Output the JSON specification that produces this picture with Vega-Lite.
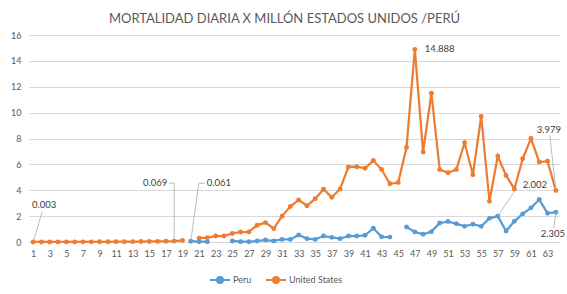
{
  "$schema": "https://vega.github.io/schema/vega-lite/v6.json",
  "width": 531,
  "height": 207,
  "autosize": {"type": "none"},
  "padding": {"left": 29, "top": 35, "right": 7, "bottom": 52},
  "background": "white",
  "title": {
    "text": "MORTALIDAD DIARIA X MILLÓN ESTADOS UNIDOS /PERÚ",
    "font": "Lato",
    "fontSize": 13,
    "fontWeight": "normal",
    "color": "#595959",
    "anchor": "middle",
    "frame": "group",
    "baseline": "bottom",
    "offset": 12,
    "dx": -10,
    "dy": 20
  },
  "config": {
    "view": {"stroke": null},
    "font": "Lato",
    "axis": {"labelFont": "Lato", "labelFontSize": 9, "labelColor": "#595959"},
    "legend": {"labelFont": "Lato", "labelFontSize": 9, "labelColor": "#595959"}
  },
  "data": {
    "values": [
      {"d": 1, "s": "United States", "v": 0.003},
      {"d": 2, "s": "United States", "v": 0.004},
      {"d": 3, "s": "United States", "v": 0.005},
      {"d": 4, "s": "United States", "v": 0.006},
      {"d": 5, "s": "United States", "v": 0.008},
      {"d": 6, "s": "United States", "v": 0.009},
      {"d": 7, "s": "United States", "v": 0.011},
      {"d": 8, "s": "United States", "v": 0.013},
      {"d": 9, "s": "United States", "v": 0.015},
      {"d": 10, "s": "United States", "v": 0.018},
      {"d": 11, "s": "United States", "v": 0.021},
      {"d": 12, "s": "United States", "v": 0.024},
      {"d": 13, "s": "United States", "v": 0.028},
      {"d": 14, "s": "United States", "v": 0.033},
      {"d": 15, "s": "United States", "v": 0.039},
      {"d": 16, "s": "United States", "v": 0.048},
      {"d": 17, "s": "United States", "v": 0.058},
      {"d": 18, "s": "United States", "v": 0.069},
      {"d": 19, "s": "United States", "v": 0.12},
      {"d": 20, "s": "United States", "v": null},
      {"d": 21, "s": "United States", "v": 0.3},
      {"d": 22, "s": "United States", "v": 0.34},
      {"d": 23, "s": "United States", "v": 0.46},
      {"d": 24, "s": "United States", "v": 0.46},
      {"d": 25, "s": "United States", "v": 0.66},
      {"d": 26, "s": "United States", "v": 0.77},
      {"d": 27, "s": "United States", "v": 0.78},
      {"d": 28, "s": "United States", "v": 1.3},
      {"d": 29, "s": "United States", "v": 1.5},
      {"d": 30, "s": "United States", "v": 1.03},
      {"d": 31, "s": "United States", "v": 2.0},
      {"d": 32, "s": "United States", "v": 2.74},
      {"d": 33, "s": "United States", "v": 3.25},
      {"d": 34, "s": "United States", "v": 2.8},
      {"d": 35, "s": "United States", "v": 3.35},
      {"d": 36, "s": "United States", "v": 4.08},
      {"d": 37, "s": "United States", "v": 3.45},
      {"d": 38, "s": "United States", "v": 4.1},
      {"d": 39, "s": "United States", "v": 5.8},
      {"d": 40, "s": "United States", "v": 5.82},
      {"d": 41, "s": "United States", "v": 5.7},
      {"d": 42, "s": "United States", "v": 6.3},
      {"d": 43, "s": "United States", "v": 5.6},
      {"d": 44, "s": "United States", "v": 4.5},
      {"d": 45, "s": "United States", "v": 4.6},
      {"d": 46, "s": "United States", "v": 7.3},
      {"d": 47, "s": "United States", "v": 14.888},
      {"d": 48, "s": "United States", "v": 6.95},
      {"d": 49, "s": "United States", "v": 11.5},
      {"d": 50, "s": "United States", "v": 5.6},
      {"d": 51, "s": "United States", "v": 5.35},
      {"d": 52, "s": "United States", "v": 5.6},
      {"d": 53, "s": "United States", "v": 7.67},
      {"d": 54, "s": "United States", "v": 5.2},
      {"d": 55, "s": "United States", "v": 9.7},
      {"d": 56, "s": "United States", "v": 3.15},
      {"d": 57, "s": "United States", "v": 6.64},
      {"d": 58, "s": "United States", "v": 5.14},
      {"d": 59, "s": "United States", "v": 4.1},
      {"d": 60, "s": "United States", "v": 6.43},
      {"d": 61, "s": "United States", "v": 8.0},
      {"d": 62, "s": "United States", "v": 6.18},
      {"d": 63, "s": "United States", "v": 6.25},
      {"d": 64, "s": "United States", "v": 3.979},
      {"d": 20, "s": "Peru", "v": 0.061},
      {"d": 21, "s": "Peru", "v": 0.02},
      {"d": 22, "s": "Peru", "v": 0.02},
      {"d": 23, "s": "Peru", "v": null},
      {"d": 24, "s": "Peru", "v": null},
      {"d": 25, "s": "Peru", "v": 0.08},
      {"d": 26, "s": "Peru", "v": 0.02},
      {"d": 27, "s": "Peru", "v": 0.02},
      {"d": 28, "s": "Peru", "v": 0.08},
      {"d": 29, "s": "Peru", "v": 0.15},
      {"d": 30, "s": "Peru", "v": 0.08},
      {"d": 31, "s": "Peru", "v": 0.2},
      {"d": 32, "s": "Peru", "v": 0.2},
      {"d": 33, "s": "Peru", "v": 0.54},
      {"d": 34, "s": "Peru", "v": 0.26},
      {"d": 35, "s": "Peru", "v": 0.2},
      {"d": 36, "s": "Peru", "v": 0.46},
      {"d": 37, "s": "Peru", "v": 0.36},
      {"d": 38, "s": "Peru", "v": 0.26},
      {"d": 39, "s": "Peru", "v": 0.46},
      {"d": 40, "s": "Peru", "v": 0.46},
      {"d": 41, "s": "Peru", "v": 0.52},
      {"d": 42, "s": "Peru", "v": 1.06},
      {"d": 43, "s": "Peru", "v": 0.4},
      {"d": 44, "s": "Peru", "v": 0.38},
      {"d": 45, "s": "Peru", "v": null},
      {"d": 46, "s": "Peru", "v": 1.16},
      {"d": 47, "s": "Peru", "v": 0.78},
      {"d": 48, "s": "Peru", "v": 0.6},
      {"d": 49, "s": "Peru", "v": 0.8},
      {"d": 50, "s": "Peru", "v": 1.47},
      {"d": 51, "s": "Peru", "v": 1.58},
      {"d": 52, "s": "Peru", "v": 1.42},
      {"d": 53, "s": "Peru", "v": 1.21},
      {"d": 54, "s": "Peru", "v": 1.37},
      {"d": 55, "s": "Peru", "v": 1.21},
      {"d": 56, "s": "Peru", "v": 1.83},
      {"d": 57, "s": "Peru", "v": 2.002},
      {"d": 58, "s": "Peru", "v": 0.85},
      {"d": 59, "s": "Peru", "v": 1.6},
      {"d": 60, "s": "Peru", "v": 2.17},
      {"d": 61, "s": "Peru", "v": 2.64},
      {"d": 62, "s": "Peru", "v": 3.28},
      {"d": 63, "s": "Peru", "v": 2.22},
      {"d": 64, "s": "Peru", "v": 2.305}
    ]
  },
  "encoding": {
    "x": {
      "field": "d",
      "type": "quantitative",
      "scale": {"domain": [0.5, 64.5], "nice": false, "zero": false},
      "axis": {
        "values": [1, 3, 5, 7, 9, 11, 13, 15, 17, 19, 21, 23, 25, 27, 29, 31, 33, 35, 37, 39, 41, 43, 45, 47, 49, 51, 53, 55, 57, 59, 61, 63],
        "title": null,
        "grid": false,
        "ticks": false,
        "domainColor": "#D9D9D9",
        "domainWidth": 1,
        "labelPadding": 7,
        "labelFlush": false,
        "labelOverlap": false
      }
    },
    "y": {
      "field": "v",
      "type": "quantitative",
      "scale": {"domain": [0, 16], "nice": false},
      "axis": {
        "values": [0, 2, 4, 6, 8, 10, 12, 14, 16],
        "title": null,
        "domain": false,
        "ticks": false,
        "gridColor": "#D9D9D9",
        "gridWidth": 1,
        "labelPadding": 8
      }
    }
  },
  "layer": [
    {
      "mark": {"type": "line", "strokeWidth": 2.25, "invalid": "break-paths-filter-domains"},
      "encoding": {
        "color": {
          "field": "s",
          "type": "nominal",
          "scale": {"domain": ["Peru", "United States"], "range": ["#5B9BD5", "#ED7D31"]},
          "legend": {
            "title": null,
            "orient": "none",
            "direction": "horizontal",
            "legendX": 180,
            "legendY": 234,
            "symbolType": "M-1,0H1M0.3,0A0.3,0.3,0,1,1,-0.3,0A0.3,0.3,0,1,1,0.3,0Z",
            "symbolSize": 400,
            "symbolStrokeWidth": 2,
            "labelOffset": 2,
            "columnPadding": 10,
            "padding": 0,
            "encode": {"symbols": {"update": {"fill": {"scale": "color", "field": "value"}, "fillOpacity": {"value": 1}}}}
          }
        }
      }
    },
    {
      "mark": {"type": "point", "filled": true, "size": 24, "opacity": 1, "invalid": "break-paths-filter-domains"},
      "encoding": {"color": {"field": "s", "type": "nominal", "legend": null}}
    },
    {
      "transform": [{"filter": "datum.s === 'United States' && datum.d === 1"}],
      "layer": [
        {"mark": {"type": "rule", "color": "#A6A6A6", "strokeWidth": 0.75, "x2Offset": 9, "y2Offset": -30}, "encoding": {"x2": {"field": "d"}, "y2": {"field": "v"}}},
        {"mark": {"type": "text", "align": "center", "baseline": "middle", "dx": 11, "dy": -37, "fontSize": 9.5, "color": "#404040"}, "encoding": {"text": {"field": "v", "type": "quantitative", "format": ".3f"}}}
      ]
    },
    {
      "transform": [{"filter": "datum.s === 'United States' && datum.d === 18"}],
      "layer": [
        {"mark": {"type": "rule", "color": "#A6A6A6", "strokeWidth": 0.75, "x2Offset": 0, "y2Offset": -58}, "encoding": {"x2": {"field": "d"}, "y2": {"field": "v"}}},
        {"mark": {"type": "rule", "color": "#A6A6A6", "strokeWidth": 0.75, "yOffset": -58, "x2Offset": -5, "y2Offset": -58}, "encoding": {"x2": {"field": "d"}, "y2": {"field": "v"}}},
        {"mark": {"type": "text", "align": "right", "baseline": "middle", "dx": -7, "dy": -58, "fontSize": 9.5, "color": "#404040"}, "encoding": {"text": {"field": "v", "type": "quantitative", "format": ".3f"}}}
      ]
    },
    {
      "transform": [{"filter": "datum.s === 'Peru' && datum.d === 20"}],
      "layer": [
        {"mark": {"type": "rule", "color": "#A6A6A6", "strokeWidth": 0.75, "x2Offset": 8, "y2Offset": -58}, "encoding": {"x2": {"field": "d"}, "y2": {"field": "v"}}},
        {"mark": {"type": "rule", "color": "#A6A6A6", "strokeWidth": 0.75, "xOffset": 8, "yOffset": -58, "x2Offset": 14, "y2Offset": -58}, "encoding": {"x2": {"field": "d"}, "y2": {"field": "v"}}},
        {"mark": {"type": "text", "align": "left", "baseline": "middle", "dx": 16, "dy": -58, "fontSize": 9.5, "color": "#404040"}, "encoding": {"text": {"field": "v", "type": "quantitative", "format": ".3f"}}}
      ]
    },
    {
      "transform": [{"filter": "datum.s === 'United States' && datum.d === 47"}],
      "mark": {"type": "text", "align": "left", "baseline": "middle", "dx": 10, "dy": 0, "fontSize": 9.5, "color": "#404040"},
      "encoding": {"text": {"field": "v", "type": "quantitative", "format": ".3f"}}
    },
    {
      "transform": [{"filter": "datum.s === 'United States' && datum.d === 64"}],
      "layer": [
        {"mark": {"type": "rule", "color": "#A6A6A6", "strokeWidth": 0.75, "x2Offset": -6, "y2Offset": -55}, "encoding": {"x2": {"field": "d"}, "y2": {"field": "v"}}},
        {"mark": {"type": "text", "align": "center", "baseline": "middle", "dx": -7, "dy": -61, "fontSize": 9.5, "color": "#404040"}, "encoding": {"text": {"field": "v", "type": "quantitative", "format": ".3f"}}}
      ]
    },
    {
      "transform": [{"filter": "datum.s === 'Peru' && datum.d === 57"}],
      "layer": [
        {"mark": {"type": "rule", "color": "#A6A6A6", "strokeWidth": 0.75, "x2Offset": 19, "y2Offset": -28}, "encoding": {"x2": {"field": "d"}, "y2": {"field": "v"}}},
        {"mark": {"type": "text", "align": "left", "baseline": "middle", "dx": 25, "dy": -31, "fontSize": 9.5, "color": "#404040"}, "encoding": {"text": {"field": "v", "type": "quantitative", "format": ".3f"}}}
      ]
    },
    {
      "transform": [{"filter": "datum.s === 'Peru' && datum.d === 64"}],
      "layer": [
        {"mark": {"type": "rule", "color": "#A6A6A6", "strokeWidth": 0.75, "x2Offset": -2, "y2Offset": 16}, "encoding": {"x2": {"field": "d"}, "y2": {"field": "v"}}},
        {"mark": {"type": "text", "align": "center", "baseline": "middle", "dx": -3, "dy": 22, "fontSize": 9.5, "color": "#404040"}, "encoding": {"text": {"field": "v", "type": "quantitative", "format": ".3f"}}}
      ]
    }
  ]
}
